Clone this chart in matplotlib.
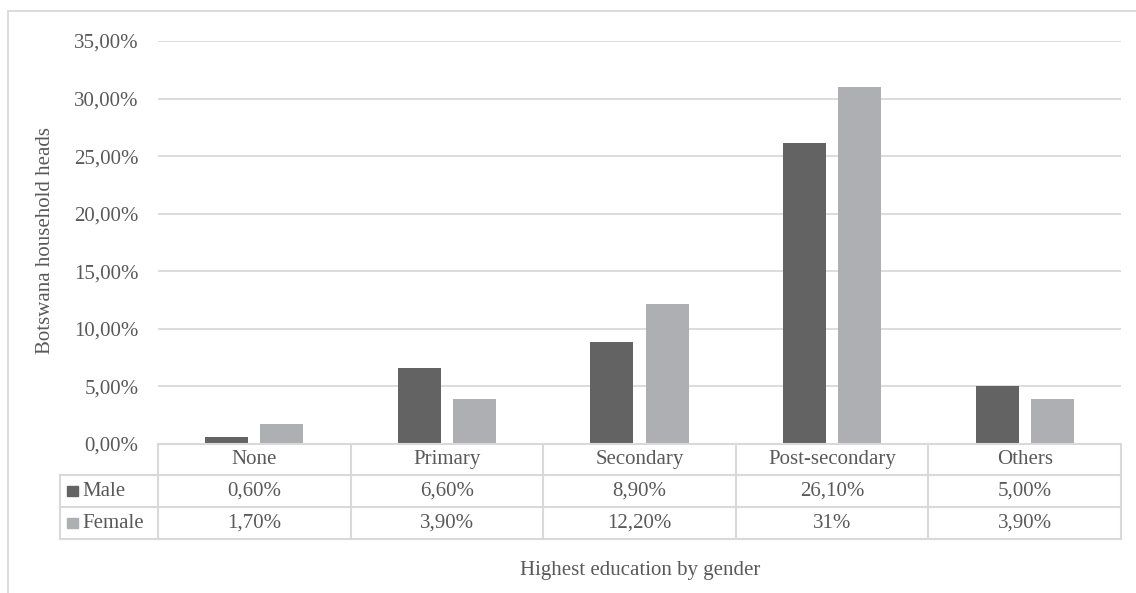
import matplotlib.pyplot as plt
from matplotlib.lines import Line2D
from matplotlib.patches import Rectangle
from matplotlib.transforms import blended_transform_factory
import numpy as np

categories = ["None", "Primary", "Secondary", "Post-secondary", "Others"]
male = [0.6, 6.6, 8.9, 26.1, 5.0]
female = [1.7, 3.9, 12.2, 31.0, 3.9]
male_labels = ["0,60%", "6,60%", "8,90%", "26,10%", "5,00%"]
female_labels = ["1,70%", "3,90%", "12,20%", "31%", "3,90%"]
series = ["Male", "Female"]
yticks = [0, 5, 10, 15, 20, 25, 30, 35]

MALE_COLOR = "#636363"
FEMALE_COLOR = "#AEAFB2"
GRID = "#D9D9D9"
TEXT = "#595959"
W, H = 1136, 593

plt.rcParams["font.family"] = ["Liberation Serif", "DejaVu Serif"]
plt.rcParams["font.size"] = 15

fig = plt.figure(figsize=(W / 100, H / 100), dpi=100)


def fx(px):
    return px / W


def fy(py):
    return 1 - py / H


ax_left, ax_right, ax_top, ax_bottom = 158, 1121, 41, 444
ax = fig.add_axes([fx(ax_left), fy(ax_bottom), fx(ax_right - ax_left), fy(ax_top) - fy(ax_bottom)])

x = np.arange(len(categories))
bw = 0.223
off = 0.143
ax.bar(x - off, male, width=bw, color=MALE_COLOR, zorder=3)
ax.bar(x + off, female, width=bw, color=FEMALE_COLOR, zorder=3)

ax.set_xlim(-0.5, len(categories) - 0.5)
ax.set_ylim(0, 35)
ax.set_yticks(yticks)
ax.set_yticklabels([f"{v},00%" for v in yticks], color=TEXT)
ax.tick_params(axis="y", length=0, pad=14)
ax.set_xticks([])
ax.yaxis.grid(True, color=GRID, linewidth=1.3, zorder=0)
for s in ax.spines.values():
    s.set_visible(False)

# outer chart frame
fig.add_artist(Line2D([fx(8), 1], [fy(11), fy(11)], color=GRID, linewidth=1.3))
fig.add_artist(Line2D([fx(8), fx(8)], [fy(11), 0], color=GRID, linewidth=1.3))

# data table below the axes
tr = blended_transform_factory(ax.transData, fig.transFigure)
rows_y = [444, 475, 507, 539]
leg_left = 60
# horizontal lines
fig.add_artist(Line2D([fx(ax_left), fx(ax_right)], [fy(rows_y[0])] * 2, color=GRID, linewidth=1.5))
for ry in rows_y[1:]:
    fig.add_artist(Line2D([fx(leg_left), fx(ax_right)], [fy(ry)] * 2, color=GRID, linewidth=1.5))
# vertical lines
for i in range(len(categories) + 1):
    ax.add_line(Line2D([i - 0.5, i - 0.5], [fy(rows_y[0]), fy(rows_y[3])], color=GRID,
                       linewidth=1.5, transform=tr, clip_on=False))
fig.add_artist(Line2D([fx(leg_left)] * 2, [fy(rows_y[1]), fy(rows_y[3])], color=GRID, linewidth=1.5))

for i, cat in enumerate(categories):
    ax.text(i, fy((rows_y[0] + rows_y[1]) / 2), cat, transform=tr, ha="center", va="center", color=TEXT)
    ax.text(i, fy((rows_y[1] + rows_y[2]) / 2), male_labels[i], transform=tr, ha="center", va="center", color=TEXT)
    ax.text(i, fy((rows_y[2] + rows_y[3]) / 2), female_labels[i], transform=tr, ha="center", va="center", color=TEXT)

for j, (name, col) in enumerate(zip(series, [MALE_COLOR, FEMALE_COLOR])):
    cy = (rows_y[j + 1] + rows_y[j + 2]) / 2
    fig.add_artist(Rectangle((fx(67), fy(cy + 5)), fx(11), fy(cy - 5) - fy(cy + 5), color=col))
    fig.text(fx(82), fy(cy), name, ha="left", va="center", color=TEXT)

fig.text(fx(640), fy(571), "Highest education by gender", ha="center", va="center", color=TEXT)
fig.text(fx(46), fy(240), "Botswana household heads", ha="center", va="center", rotation=90, color=TEXT)

fig.savefig("out.png", dpi=100, facecolor="white")
